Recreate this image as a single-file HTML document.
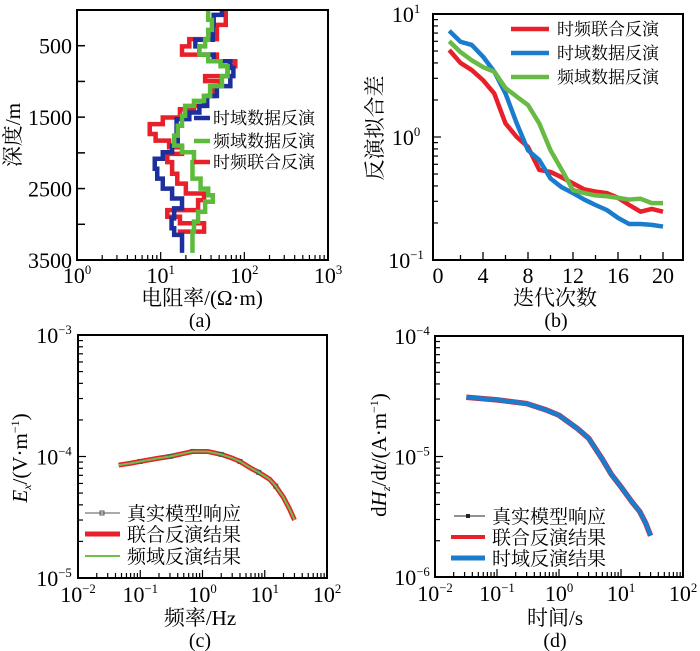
<!DOCTYPE html>
<html><head><meta charset="utf-8">
<style>
html,body{margin:0;padding:0;background:#fff;}
svg{display:block;}
text{font-family:"Liberation Serif","Noto Serif CJK SC","Noto Sans CJK SC",serif;fill:#000;}
</style></head>
<body>
<svg id="fig" width="700" height="651" viewBox="0 0 700 651" xmlns="http://www.w3.org/2000/svg"></svg>
<script>
// ---------- Panel (a) data: step profiles [top depth, resistivity] ----------
const aRedDepth = [0,208,407,509,625,718,787,926,995,1065,1204,1343,1389,1505,1597,1736,1829,1921,2014,2130,2292,2431,2569,2662,2801,2894,2986,3102];
const aRedRho   = [60,47,22,18,47,78,63,34,52,43,33,25,17,10.6,7.4,8.7,12.6,18,12,13.7,15.8,20,33,28,12,17,33,17];
const aRedEnd = 3150;
const aBlueDepth = [0,69,208,417,509,625,718,810,926,1065,1204,1343,1435,1528,1713,1898,1991,2083,2222,2361,2500,2639,2778,2917,3056,3148];
const aBlueRho   = [54,43,42,26,29,43,68,74,68,47,36,29,22,15.5,16,13.7,10.6,8.5,9.1,10.6,13.7,18,14.5,13.5,14.5,18];
const aBlueEnd = 3400;
const aGreenDepth = [0,139,278,417,509,625,718,787,926,1065,1204,1273,1343,1481,1620,1759,1898,1991,2130,2361,2500,2593,2685,2824,2963,3102];
const aGreenRho   = [37,41,37,34,29,37,52,63,54,39,33,25,19.6,18,16,14.5,18,25,24,30,37,42,34,28,25,24];
const aGreenEnd = 3400;
const aXTicks = ['0','1','2','3'];
const aYTicks = [500,1500,2500,3500];

// ---------- Panel (b) data ----------
const bIter = [1,2,3,4,5,6,7,8,9,10,11,12,13,14,15,16,17,18,19,20];
const bJoint = [5.1,4.0,3.5,2.9,2.26,1.29,1.0,0.83,0.54,0.52,0.47,0.42,0.375,0.36,0.35,0.32,0.28,0.247,0.26,0.247];
const bTime  = [7.3,5.95,5.6,4.5,3.4,2.26,1.29,0.78,0.65,0.46,0.39,0.35,0.31,0.28,0.255,0.22,0.196,0.196,0.193,0.187];
const bFreq  = [6.0,4.9,4.2,3.7,3.4,2.5,2.13,1.82,1.29,0.78,0.54,0.37,0.35,0.335,0.33,0.32,0.31,0.315,0.29,0.29];
const bXTicks = [0,4,8,12,16,20];

// ---------- Panel (c) data ----------
const cFreq = [0.045,0.07,0.1,0.2,0.3,0.5,0.7,1.0,1.2,2,3,4,6,8,12,15,20,25,30];
const cEx   = [8.5e-5,8.8e-5,9.1e-5,9.7e-5,1.0e-4,1.06e-4,1.1e-4,1.1e-4,1.1e-4,1.04e-4,9.7e-5,9.1e-5,8.0e-5,7.4e-5,6.5e-5,5.7e-5,4.6e-5,3.7e-5,3.0e-5];
const cTrueIdx = [2,4,6,9,11,13,15];

// ---------- Panel (d) data ----------
const dTime = [0.032,0.1,0.3,0.6,1,2,3,5,7,10,15,20,25,30];
const dHz   = [3.1e-5,2.95e-5,2.75e-5,2.45e-5,2.2e-5,1.7e-5,1.42e-5,9.5e-6,7.1e-6,5.6e-6,4.2e-6,3.5e-6,2.8e-6,2.2e-6];

const NS='http://www.w3.org/2000/svg';
const svg=document.getElementById('fig');
function mk(tag,attrs,parent){const e=document.createElementNS(NS,tag);for(const k in attrs)e.setAttribute(k,attrs[k]);(parent||svg).appendChild(e);return e;}
function txt(x,y,s,size,anchor,parent){const t=mk('text',{x:x,y:y,'font-size':size,'text-anchor':anchor||'middle'},parent);t.textContent=s;return t;}
function pow10(x,y,exp,size,parent){const t=mk('text',{x:x,y:y,'font-size':size,'text-anchor':'middle'},parent);
 const a=document.createElementNS(NS,'tspan');a.textContent='10';t.appendChild(a);
 const b=document.createElementNS(NS,'tspan');b.setAttribute('dy',-9);b.setAttribute('font-size',size*0.58);b.textContent=exp;t.appendChild(b);return t;}
function logTicksX(g,x0,x1,yb,dmin,dmax,len){const sx=v=>x0+(Math.log10(v)-dmin)/(dmax-dmin)*(x1-x0);
 for(let d=dmin;d<dmax;d++){for(let m=1;m<10;m++){const x=sx(m*Math.pow(10,d));mk('line',{x1:x,x2:x,y1:yb,y2:yb-(m==1?len*1.6:len),stroke:'#000','stroke-width':1.2},g);}}}
function logTicksY(g,xl,y0,y1,dmin,dmax,len){const sy=v=>y0-(Math.log10(v)-dmin)/(dmax-dmin)*(y0-y1);
 for(let d=dmin;d<dmax;d++){for(let m=1;m<10;m++){const y=sy(m*Math.pow(10,d));mk('line',{x1:xl,x2:xl+(m==1?len*1.6:len),y1:y,y2:y,stroke:'#000','stroke-width':1.2},g);}}}

// ===== Panel A =====
(function(){
 const g=mk('g',{});
 const L=77,R=328,T=10,B=260;
 const sx=v=>L+Math.log10(v)/3*(R-L);
 const sy=d=>T+d/3500*(B-T);
 function steps(D,V,end,color,name){let p='';for(let i=0;i<D.length;i++){const x=sx(V[i]);const y0=sy(D[i]);const y1=sy(i+1<D.length?D[i+1]:end);p+=(i==0?'M':'L')+x+','+y0+'L'+x+','+y1;}
  const e=mk('path',{d:p,fill:'none',stroke:color,'stroke-width':4.5,'stroke-linejoin':'miter'},g);}
 steps(aRedDepth,aRedRho,aRedEnd,'#e8202a','joint-inversion-profile');
 steps(aBlueDepth,aBlueRho,aBlueEnd,'#1c2f9c','time-domain-profile');
 steps(aGreenDepth,aGreenRho,aGreenEnd,'#5dbb3c','frequency-domain-profile');
 const f=mk('rect',{x:L,y:T,width:R-L,height:B-T,fill:'none',stroke:'#000','stroke-width':2},g);
 logTicksX(g,L,R,B,0,3,5);
 for(let d=500;d<3500;d+=500){mk('line',{x1:L,x2:L+8,y1:sy(d),y2:sy(d),stroke:'#000','stroke-width':1.5},g);}
 aYTicks.forEach(d=>{const t=txt(L-5,sy(d)+8,String(d),22,'end',g);});
 aXTicks.forEach((e,i)=>{const t=pow10(L+i*(R-L)/3,283,e,22,g);});
 let t=txt(202,305,'电阻率/(Ω·m)',21,'middle',g);
 t=txt(200,327,'(a)',20,'middle',g);
 t=mk('text',{x:0,y:0,'font-size':21,'text-anchor':'middle',transform:'translate(20,135) rotate(-90)'},g);t.textContent='深度/m';
 const leg=[['时域数据反演','#1c2f9c',118],['频域数据反演','#5dbb3c',141],['时频联合反演','#e8202a',162]];
 leg.forEach(l=>{const lg=mk('g',{},g);
  mk('line',{x1:194,x2:210,y1:l[2],y2:l[2],stroke:l[1],'stroke-width':4.5},lg);txt(213,l[2]+6,l[0],17,'start',lg);});
})();

// ===== Panel B =====
(function(){
 const g=mk('g',{});
 const L=433,R=683,T=14,B=260;
 const sx=v=>438+v*11.25;
 const sy=v=>B-(Math.log10(v)+1)/2*(B-T);
 function line(X,Y,color,name){const p=X.map((x,i)=>(i?'L':'M')+sx(x)+','+sy(Y[i])).join('');
  const e=mk('path',{d:p,fill:'none',stroke:color,'stroke-width':4.5,'stroke-linejoin':'round'},g);}
 line(bIter,bJoint,'#e8202a','joint-misfit-line');
 line(bIter,bTime,'#1a7ccc','time-misfit-line');
 line(bIter,bFreq,'#68ba45','freq-misfit-line');
 const f=mk('rect',{x:L,y:T,width:R-L,height:B-T,fill:'none',stroke:'#000','stroke-width':2},g);
 logTicksY(g,L,B,T,-1,1,5);
 for(let v=2;v<=20;v+=2){mk('line',{x1:sx(v),x2:sx(v),y1:B,y2:B-(v%4==0?8:5),stroke:'#000','stroke-width':1.3},g);}
 bXTicks.forEach(v=>{const t=txt(sx(v),283,String(v),22,'middle',g);});
 [['1',T],['0',sy(1)],['−1',B]].forEach(a=>{const t=pow10(406,a[1]+8,a[0],22,g);});
 let t=txt(555,305,'迭代次数',21,'middle',g);
 t=txt(556,327,'(b)',20,'middle',g);
 t=mk('text',{x:0,y:0,'font-size':21,'text-anchor':'middle',transform:'translate(382,128) rotate(-90)'},g);t.textContent='反演拟合差';
 const leg=[['时频联合反演','#e8202a',29],['时域数据反演','#1a7ccc',53],['频域数据反演','#68ba45',77]];
 leg.forEach(l=>{const lg=mk('g',{},g);
  mk('line',{x1:511,x2:549,y1:l[2],y2:l[2],stroke:l[1],'stroke-width':4.5},lg);txt(557,l[2]+6,l[0],17,'start',lg);});
})();

// ===== Panel C =====
(function(){
 const g=mk('g',{});
 const L=78,R=327,T=335,B=578;
 const sx=v=>L+(Math.log10(v)+2)/4*(R-L);
 const sy=v=>B-(Math.log10(v)+5)/2*(B-T);
 const p=cFreq.map((x,i)=>(i?'L':'M')+sx(x)+','+sy(cEx[i])).join('');
 let e=mk('path',{d:p,fill:'none',stroke:'#e8202a','stroke-width':5,'stroke-linejoin':'round'},g);
 e=mk('path',{d:p,fill:'none',stroke:'#6a6a6a','stroke-width':1},g);
 cTrueIdx.forEach(i=>{const m=mk('rect',{x:sx(cFreq[i])-2,y:sy(cEx[i])-2,width:4,height:4,fill:'none',stroke:'#555','stroke-width':1},g);});
 e=mk('path',{d:p,fill:'none',stroke:'#6cc04a','stroke-width':2,'stroke-linejoin':'round'},g);
 const f=mk('rect',{x:L,y:T,width:R-L,height:B-T,fill:'none',stroke:'#000','stroke-width':2},g);
 logTicksX(g,L,R,B,-2,2,5);logTicksY(g,L,B,T,-5,-3,5);
 ['−2','−1','0','1','2'].forEach((s,i)=>{const t=pow10(L+i*(R-L)/4,602,s,22,g);});
 [['−3',T],['−4',sy(1e-4)],['−5',B]].forEach(a=>{const t=pow10(54,a[1]+8,a[0],22,g);});
 let t=txt(200,625,'频率/Hz',21,'middle',g);
 t=txt(200,647,'(c)',20,'middle',g);
 t=mk('text',{x:0,y:0,'font-size':21,'text-anchor':'middle',transform:'translate(27,458) rotate(-90)'},g);
 t.innerHTML='<tspan font-style="italic">E</tspan><tspan font-style="italic" font-size="12" dy="4">x</tspan><tspan dy="-4">/(V·m</tspan><tspan font-size="12" dy="-8">−1</tspan><tspan dy="8">)</tspan>';
 
 const leg=[['真实模型响应',513],['联合反演结果',534],['频域反演结果',556]];
 leg.forEach((l,i)=>{const lg=mk('g',{},g);
  if(i==0){mk('line',{x1:85,x2:120,y1:l[1],y2:l[1],stroke:'#555','stroke-width':1},lg);mk('rect',{x:100,y:l[1]-2,width:4,height:4,fill:'none',stroke:'#555'},lg);}
  if(i==1)mk('line',{x1:85,x2:120,y1:l[1],y2:l[1],stroke:'#e8202a','stroke-width':5},lg);
  if(i==2)mk('line',{x1:85,x2:120,y1:l[1],y2:l[1],stroke:'#6cc04a','stroke-width':2},lg);
  txt(127,l[1]+7,l[0],19,'start',lg);});
})();

// ===== Panel D =====
(function(){
 const g=mk('g',{});
 const L=435,R=683,T=336,B=577;
 const sx=v=>L+(Math.log10(v)+2)/4*(R-L);
 const sy=v=>B-(Math.log10(v)+6)/2*(B-T);
 const p=dTime.map((x,i)=>(i?'L':'M')+sx(x)+','+sy(dHz[i])).join('');
 let e=mk('path',{d:p,fill:'none',stroke:'#e8202a','stroke-width':5.5,'stroke-linejoin':'round'},g);
 e=mk('path',{d:p,fill:'none',stroke:'#1a7ccc','stroke-width':4.5,'stroke-linejoin':'round'},g);
 const f=mk('rect',{x:L,y:T,width:R-L,height:B-T,fill:'none',stroke:'#000','stroke-width':2},g);
 logTicksX(g,L,R,B,-2,2,5);logTicksY(g,L,B,T,-6,-4,5);
 ['−2','−1','0','1','2'].forEach((s,i)=>{const t=pow10(L+i*(R-L)/4,601,s,22,g);});
 [['−4',T],['−5',sy(1e-5)],['−6',B]].forEach(a=>{const t=pow10(412,a[1]+8,a[0],22,g);});
 let t=txt(555,625,'时间/s',21,'middle',g);
 t=txt(555,647,'(d)',20,'middle',g);
 t=mk('text',{x:0,y:0,'font-size':21,'text-anchor':'middle',transform:'translate(386,455) rotate(-90)'},g);
 t.innerHTML='d<tspan font-style="italic">H</tspan><tspan font-style="italic" font-size="12" dy="4">z</tspan><tspan dy="-4">/d</tspan><tspan font-style="italic">t</tspan>/(A·m<tspan font-size="12" dy="-8">−1</tspan><tspan dy="8">)</tspan>';
 
 const leg=[['真实模型响应',516],['联合反演结果',537],['时域反演结果',558]];
 leg.forEach((l,i)=>{const lg=mk('g',{},g);
  if(i==0){mk('line',{x1:454,x2:485,y1:l[1],y2:l[1],stroke:'#222','stroke-width':1},lg);mk('rect',{x:466,y:l[1]-2,width:4,height:4,fill:'#222'},lg);}
  if(i==1)mk('line',{x1:451,x2:485,y1:l[1],y2:l[1],stroke:'#e8202a','stroke-width':4},lg);
  if(i==2)mk('line',{x1:451,x2:485,y1:l[1],y2:l[1],stroke:'#1a7ccc','stroke-width':5},lg);
  txt(492,l[1]+7,l[0],19,'start',lg);});
})();
</script>
</body></html>
